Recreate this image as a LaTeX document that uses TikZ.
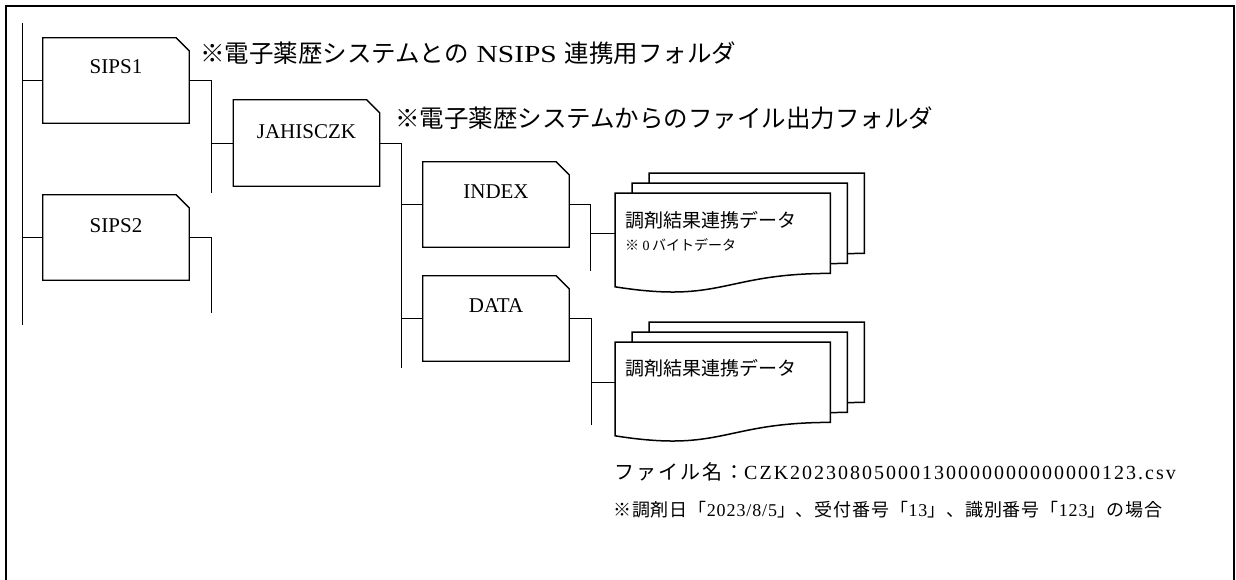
\documentclass[tikz,border=0pt]{standalone}
\usepackage{fontspec}
\usepackage{graphicx}
\setmainfont{Liberation Serif}
\newfontfamily\jp{Noto Sans CJK JP}
\newfontfamily\jpls{Noto Sans CJK JP}[LetterSpace=10]
\newfontfamily\serls{Liberation Serif}[LetterSpace=10]
\newfontfamily\jplt{Noto Sans CJK JP}[LetterSpace=5]
\newfontfamily\serlt{Liberation Serif}[LetterSpace=5]
\usetikzlibrary{calc}
\tikzset{
  folder/.style={rectangle, minimum width=146pt, minimum height=85pt, inner sep=0pt},
  flabel/.style={font=\fontsize{21}{24}\selectfont, inner sep=0pt},
  conn/.style={line width=0.9pt},
  fline/.style={line width=1.3pt, line join=miter, fill=white},
  dline/.style={line width=1.5pt, line join=miter, fill=white},
  docbox/.style={rectangle, minimum width=215pt, minimum height=80pt, inner sep=0pt, anchor=north west},
  txt/.style={anchor=west, inner sep=0pt},
}
\newcommand{\folderoutline}[1]{\draw[fline] (#1.south west) -- (#1.north west) -- ([xshift=-13pt]#1.north east) -- ([yshift=-13pt]#1.north east) -- (#1.south east) -- cycle;}
\newcommand{\docshape}[1]{\draw[dline] (#1.north west) -- (#1.north east) -- (#1.south east) .. controls (#1.south) and ($(#1.south)+(0,30.5)$) .. ($(#1.south west)+(0,13.4)$) -- cycle;}
\begin{document}
\begin{tikzpicture}[x=1pt,y=-1pt]
\useasboundingbox (0,0) rectangle (1236,579);
% outer frame
\draw[line width=2pt] (6,582) -- (6,6) -- (1234,6) -- (1234,582);

% folders
\node[folder] (sips1) at (116,80.5) {};
\node[folder] (sips2) at (116,237.5) {};
\node[folder, minimum height=86pt] (jah) at (306.5,143) {};
\node[folder] (index) at (496,204.5) {};
\node[folder] (data) at (496,318.5) {};
\folderoutline{sips1}
\folderoutline{sips2}
\folderoutline{jah}
\folderoutline{index}
\folderoutline{data}
\node[flabel] (sips1t) at ([yshift=-29pt]sips1.north) {SIPS1};
\node[flabel] (sips2t) at ([yshift=-31pt]sips2.north) {SIPS2};
\node[flabel] (jaht) at ([yshift=-32pt]jah.north) {JAHISCZK};
\node[flabel] (indext) at ([yshift=-30pt]index.north) {INDEX};
\node[flabel] (datat) at ([yshift=-30pt]data.north) {DATA};

% tree lines
\coordinate (rootTop) at (22,23);
\coordinate (rootBot) at (22,325);
\coordinate (s1b) at (211,193);
\coordinate (s2b) at (211,313);
\coordinate (jb) at (401,368);
\coordinate (ib) at (590,271);
\coordinate (db) at (591,425);
\draw[conn] (rootTop) -- (rootBot);
\draw[conn] (sips1.west) -- (sips1.west -| rootTop);
\draw[conn] (sips2.west) -- (sips2.west -| rootTop);
\draw[conn] (sips1.east) -| (s1b);
\draw[conn] (sips2.east) -| (s2b);
\draw[conn] (jah.west) -- (jah.west -| s1b);
\draw[conn] (jah.east) -| (jb);
\draw[conn] (index.west) -- (index.west -| jb);
\draw[conn] (data.west) -- (data.west -| jb);
\draw[conn] (index.east) -| (ib);
\draw[conn] (data.east) -| (db);

% documents
\node[docbox] (doc1c) at (649,173) {};
\node[docbox] (doc1b) at (632,183) {};
\node[docbox] (doc1) at (615,193) {};
\docshape{doc1c}
\docshape{doc1b}
\docshape{doc1}
\node[docbox] (doc2c) at (649,322) {};
\node[docbox] (doc2b) at (632,332) {};
\node[docbox] (doc2) at (615,342) {};
\docshape{doc2c}
\docshape{doc2b}
\docshape{doc2}
\draw[conn] (doc1.west) -- (doc1.west -| ib);
\draw[conn] (doc2.west) -- (doc2.west -| db);

\node[txt, font=\fontsize{19}{22}\selectfont\jp] (doc1t) at ($(doc1.north west)+(10,27)$) {調剤結果連携データ};
\node[txt, font=\fontsize{14}{16}\selectfont] (doc1n) at ($(doc1.north west)+(10,52)$) {{\jp ※} 0\,{\jp バイトデータ}};
\node[txt, font=\fontsize{19}{22}\selectfont\jp] (doc2t) at ($(doc2.north west)+(10,26)$) {調剤結果連携データ};

% annotations
\node[txt, font=\fontsize{24.5}{28}\selectfont] (note1) at (200,53) {{\jp ※電子薬歴システムとの}\hspace{8pt}\scalebox{1.2}[1]{NSIPS}\hspace{8pt}{\jp 連携用フォルダ}};
\node[txt, font=\fontsize{24.5}{28}\selectfont\jp] (note2) at (395,118) {※電子薬歴システムからのファイル出力フォルダ};
\node[txt, font=\fontsize{20}{23}\selectfont] (fname) at (614,472) {\jpls ファイル名：\serls CZK20230805000130000000000000123.csv};
\node[txt, font=\fontsize{18}{21}\selectfont] (fnote) at (613,510) {\jplt ※調剤日「\serlt 2023/8/5\jplt 」、受付番号「\serlt 13\jplt 」、識別番号「\serlt 123\jplt 」の場合};
\end{tikzpicture}
\end{document}
